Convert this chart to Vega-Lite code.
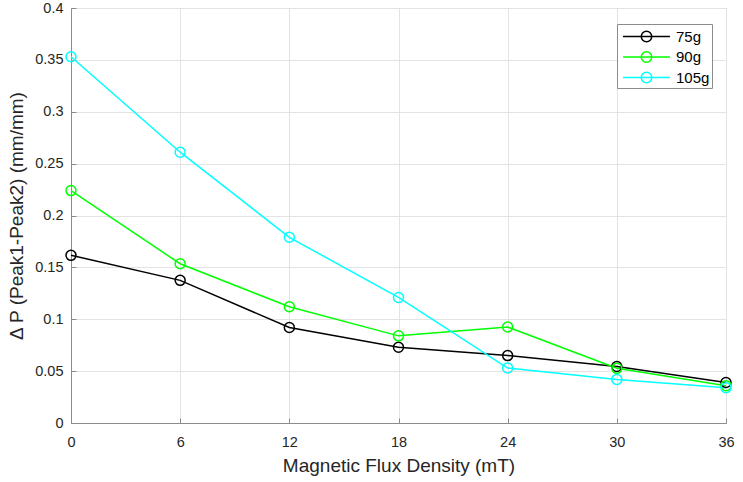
{
  "$schema": "https://vega.github.io/schema/vega-lite/v6.json",
  "width": 655,
  "height": 415,
  "autosize": "none",
  "padding": {"left": 71, "top": 8, "right": 17, "bottom": 59},
  "background": "white",
  "config": {
    "font": "Liberation Sans",
    "view": {"stroke": "#8c8c8c", "strokeWidth": 1},
    "axis": {
      "labelFont": "Liberation Sans",
      "titleFont": "Liberation Sans",
      "labelFontSize": 14.5,
      "titleFontSize": 19,
      "titleFontWeight": "normal",
      "labelColor": "#262626",
      "titleColor": "#262626",
      "domainColor": "#8c8c8c",
      "tickColor": "#8c8c8c",
      "gridColor": "#e3e3e3",
      "gridOpacity": 1
    }
  },
  "data": {
    "values": [
      {"B": 0, "dP": 0.1616, "mass": "75g"},
      {"B": 6, "dP": 0.1375, "mass": "75g"},
      {"B": 12, "dP": 0.092, "mass": "75g"},
      {"B": 18, "dP": 0.073, "mass": "75g"},
      {"B": 24, "dP": 0.065, "mass": "75g"},
      {"B": 30, "dP": 0.0545, "mass": "75g"},
      {"B": 36, "dP": 0.039, "mass": "75g"},
      {"B": 0, "dP": 0.224, "mass": "90g"},
      {"B": 6, "dP": 0.1535, "mass": "90g"},
      {"B": 12, "dP": 0.112, "mass": "90g"},
      {"B": 18, "dP": 0.084, "mass": "90g"},
      {"B": 24, "dP": 0.0925, "mass": "90g"},
      {"B": 30, "dP": 0.0527, "mass": "90g"},
      {"B": 36, "dP": 0.036, "mass": "90g"},
      {"B": 0, "dP": 0.353, "mass": "105g"},
      {"B": 6, "dP": 0.261, "mass": "105g"},
      {"B": 12, "dP": 0.179, "mass": "105g"},
      {"B": 18, "dP": 0.121, "mass": "105g"},
      {"B": 24, "dP": 0.053, "mass": "105g"},
      {"B": 30, "dP": 0.042, "mass": "105g"},
      {"B": 36, "dP": 0.034, "mass": "105g"}
    ]
  },
  "encoding": {
    "x": {
      "field": "B",
      "type": "quantitative",
      "scale": {"domain": [0, 36], "nice": false},
      "axis": {
        "values": [0, 6, 12, 18, 24, 30, 36],
        "title": "Magnetic Flux Density (mT)",
        "tickSize": -5,
        "labelPadding": 17,
        "titlePadding": 8,
        "labelFlush": false
      }
    },
    "y": {
      "field": "dP",
      "type": "quantitative",
      "scale": {"domain": [0, 0.4], "nice": false},
      "axis": {
        "values": [0, 0.05, 0.1, 0.15, 0.2, 0.25, 0.3, 0.35, 0.4],
        "format": "~g",
        "title": "Δ P (Peak1-Peak2) (mm/mm)",
        "tickSize": -5,
        "labelPadding": 13,
        "titlePadding": 8,
        "labelFlush": false
      }
    },
    "color": {
      "field": "mass",
      "type": "nominal",
      "scale": {"domain": ["75g", "90g", "105g"], "range": ["#000000", "#00ff00", "#00ffff"]},
      "legend": {
        "title": null,
        "orient": "none",
        "legendX": 546,
        "legendY": 16,
        "symbolType": "M-2.47,0L2.47,0M-0.55,0A0.55,0.55 0 1,1 0.55,0A0.55,0.55 0 1,1 -0.55,0",
        "symbolSize": 361,
        "symbolStrokeWidth": 1.5,
        "symbolFillColor": "transparent",
        "symbolOffset": 17,
        "labelOffset": 19,
        "labelFontSize": 15,
        "labelColor": "#000000",
        "labelFont": "Liberation Sans",
        "rowPadding": 1.5,
        "padding": 2,
        "strokeColor": "#8c8c8c",
        "fillColor": "white",
        "cornerRadius": 0,
        "offset": 0
      }
    }
  },
  "layer": [
    {"mark": {"type": "line", "strokeWidth": 1.5}},
    {"mark": {"type": "point", "filled": false, "size": 100, "strokeWidth": 1.5, "opacity": 1}}
  ]
}
